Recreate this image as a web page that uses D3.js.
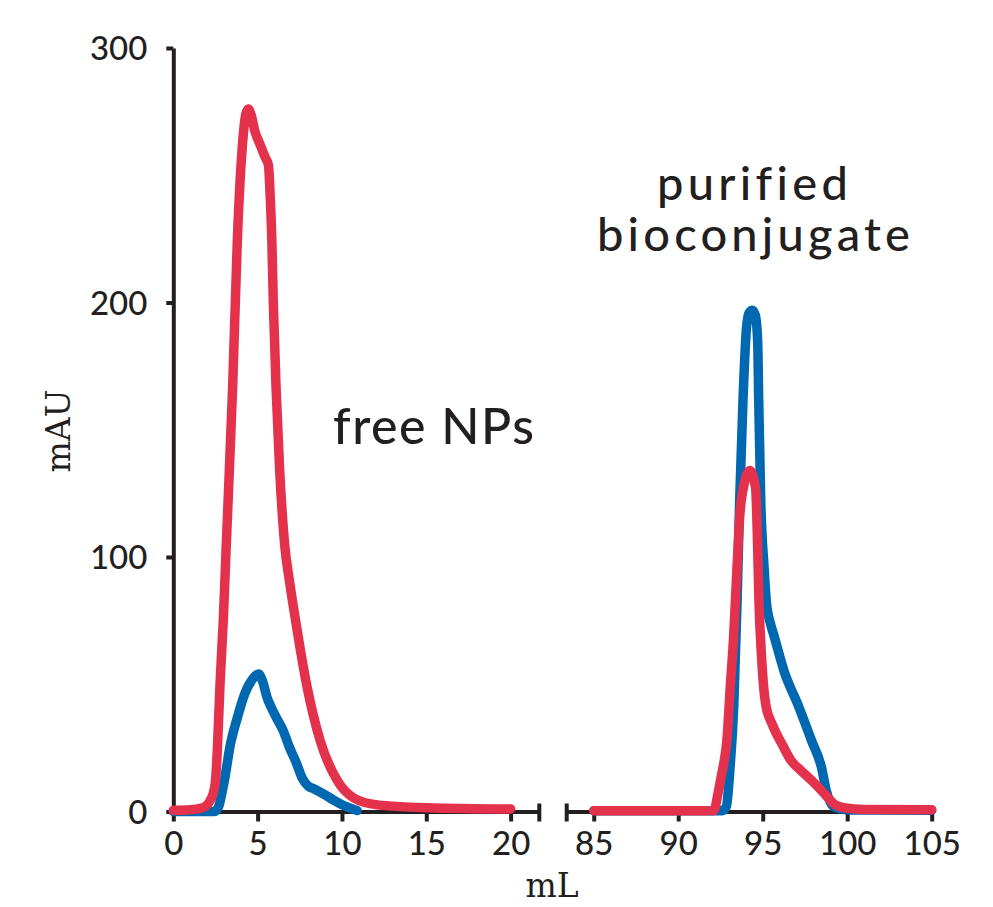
<!DOCTYPE html>
<html>
<head>
<meta charset="utf-8">
<script src="https://cdn.jsdelivr.net/npm/d3@7"></script>
<style>
  html, body { margin: 0; padding: 0; background: #ffffff; }
  svg { display: block; }
</style>
</head>
<body>
<svg id="chart" width="993" height="907"></svg>
<script>
// ---------------- data ----------------
const yTicks = [0, 100, 200, 300];
const xTicksLeft = [0, 5, 10, 15, 20];
const xTicksRight = [85, 90, 95, 100, 105];
const xDomainLeft = [0, 21.7];
const xDomainRight = [83.4, 105];
const yDomain = [0, 300];

// [mL, mAU] — free NPs region
const blueFree = [[0,0],[2.45,0],[2.69,2],[2.87,7],[3.07,13.7],[3.36,25.5],[3.76,36],[4.25,46.5],[4.7,52],[5.05,54],[5.3,51],[5.55,45],[5.8,41],[6.1,37],[6.5,32],[6.9,25],[7.3,19],[7.65,13],[8.0,10],[8.3,9],[9.0,6.5],[9.5,4.5],[10.3,1.8],[10.9,0.4]];
const redFree = [[0,0.5],[1,0.7],[1.6,1.2],[2.0,2.5],[2.2,4.5],[2.4,8],[2.5,12],[2.61,24],[2.77,50],[2.97,76],[3.13,103],[3.52,167],[3.8,225],[4.1,262],[4.3,274],[4.45,276],[4.6,274],[4.85,267],[5.15,262],[5.45,257],[5.64,254],[5.73,244],[5.84,225],[5.93,200],[6.09,167],[6.3,135],[6.6,105],[6.9,90],[7.3,73],[7.9,50],[8.7,28],[9.7,12.4],[10.7,5.3],[12.1,2.6],[15,1.5],[20,1]];

// [mL, mAU] — purified bioconjugate region
const blueConj = [[85,0.3],[92.6,0.3],[92.85,2],[93.04,15],[93.29,42],[93.48,82],[93.64,123],[93.84,163],[94.04,190],[94.2,196],[94.38,197],[94.56,195],[94.7,185],[94.76,163],[94.88,123],[95.08,96],[95.22,82],[95.45,74],[95.67,69],[96.27,55],[97.08,42],[97.88,28],[98.47,17.5],[98.77,8],[99.18,2],[99.6,1],[100.1,0.6],[105,0.5]];
const redConj = [[85,0.3],[92.1,0.3],[92.38,8],[92.58,15],[92.7,19],[92.88,28],[93.08,49],[93.28,69],[93.48,96],[93.64,116],[93.88,128],[94.24,134],[94.58,127],[94.68,109],[94.78,82],[94.92,62],[95.18,42],[95.58,34],[96.18,26],[96.68,20],[97.28,16],[98.08,11],[98.68,6.8],[99.28,2.7],[99.88,1.35],[101,0.8],[105,0.7]];

const labelFree = "free NPs";
const labelConj = ["purified", "bioconjugate"];
const yLabel = "mAU";
const xLabel = "mL";

// ---------------- style ----------------
const ink = "#231f20";
const red = "#e4324c";
const blue = "#0067b1";
const sansFont = "Lato, 'Open Sans', sans-serif";
const serifFont = "'DejaVu Serif', serif";

const svg = d3.select("#chart");
svg.append("rect").attr("width", 993).attr("height", 907).attr("fill", "#fff");

const y = d3.scaleLinear().domain(yDomain).range([811.5, 48]);
const xL = d3.scaleLinear().domain(xDomainLeft).range([173.3, 539.3]);
const xR = d3.scaleLinear().domain(xDomainRight).range([566.7, 931.7]);

function styleAxis(g) {
  g.selectAll("path, line").attr("stroke", ink).attr("stroke-width", 4);
  g.selectAll("text").attr("fill", ink).style("font-family", sansFont)
    .style("font-size", "33px").style("font-weight", 500);
}

// x axes
const gxL = svg.append("g").attr("transform", `translate(0,${y(0)})`)
  .call(d3.axisBottom(xL).tickValues(xTicksLeft).tickSize(10).tickSizeOuter(0).tickPadding(10).tickFormat(d3.format("d")));
styleAxis(gxL);
const gxR = svg.append("g").attr("transform", `translate(0,${y(0)})`)
  .call(d3.axisBottom(xR).tickValues(xTicksRight).tickSize(10).tickSizeOuter(0).tickPadding(10).tickFormat(d3.format("d")));
styleAxis(gxR);

// break caps
[xL.range()[1], xR.range()[0]].forEach(px => {
  svg.append("line").attr("x1", px).attr("x2", px)
    .attr("y1", y(0) - 8).attr("y2", y(0) + 10)
    .attr("stroke", ink).attr("stroke-width", 4);
});

// y axis
const gy = svg.append("g").attr("transform", `translate(${xL.range()[0]},0)`)
  .call(d3.axisLeft(y).tickValues(yTicks).tickSize(7).tickSizeOuter(0).tickPadding(19));
styleAxis(gy);
gy.selectAll("text").attr("dy", "0.36em");

// lines
const line = (xs) => d3.line().x(d => xs(d[0])).y(d => y(d[1])).curve(d3.curveMonotoneX);
const series = [
  [blueFree, xL, blue], [blueConj, xR, blue],
  [redFree, xL, red], [redConj, xR, red]
];
series.forEach(([data, xs, col]) => {
  svg.append("path").datum(data)
    .attr("d", line(xs))
    .attr("fill", "none").attr("stroke", col)
    .attr("stroke-width", 9.5)
    .attr("stroke-linejoin", "round").attr("stroke-linecap", "round");
});

// axis titles
svg.append("text").text(yLabel)
  .attr("transform", "translate(70,431) rotate(-90)")
  .attr("text-anchor", "middle").attr("fill", ink)
  .style("font-family", serifFont).style("font-size", "33px");
svg.append("text").text(xLabel)
  .attr("x", 552).attr("y", 897)
  .attr("text-anchor", "middle").attr("fill", ink)
  .style("font-family", serifFont).style("font-size", "33px");

// annotations, letter-spaced to match the original's wide lettering
function fitText(t, width) {
  const n = t.text().length;
  const w = t.node().getComputedTextLength();
  t.attr("letter-spacing", ((width - w) / (n - 1)).toFixed(2));
}
const tFree = svg.append("text").text(labelFree)
  .attr("x", 333).attr("y", 444).attr("fill", ink)
  .style("font-family", sansFont).style("font-size", "50px").style("font-weight", 500);
fitText(tFree, 201);

const t1 = svg.append("text").text(labelConj[0])
  .attr("x", 657).attr("y", 200).attr("fill", ink)
  .style("font-family", sansFont).style("font-size", "47px").style("font-weight", 500);
fitText(t1, 190);
const t2 = svg.append("text").text(labelConj[1])
  .attr("x", 597).attr("y", 251).attr("fill", ink)
  .style("font-family", sansFont).style("font-size", "47px").style("font-weight", 500);
fitText(t2, 313);
</script>
</body>
</html>
